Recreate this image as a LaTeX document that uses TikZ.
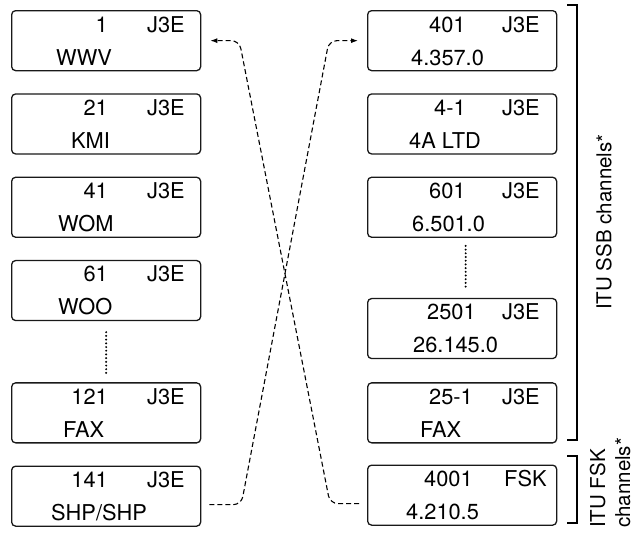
\documentclass[tikz,border=0pt]{standalone}
\usepackage{fontspec}
\setmainfont{TeX Gyre Heros}
\usetikzlibrary{positioning, arrows.meta}

\begin{document}
\begin{tikzpicture}[
    x=1pt, y=-1pt,
    >={Latex[length=7pt, width=5pt]},
    node distance=22pt,
    % Channel display boxes and their texts
    chbox/.style={draw=black!90, rectangle, rounded corners=4pt, minimum width=189pt, minimum height=60pt, line width=1.3pt, inner sep=0pt},
    txt/.style={inner sep=0pt, font=\fontsize{21.8}{25}\selectfont},
    side_label/.style={inner sep=0pt, rotate=90, font=\fontsize{20.5}{25}\selectfont},
    % Line styles
    more_dots/.style={line width=2.2pt, line cap=round, dash pattern=on 0pt off 3.7pt},
    link/.style={->, line width=1.1pt, dash pattern=on 5pt off 3pt, rounded corners=8pt, shorten <=8pt, shorten >=9pt},
    bracket/.style={line width=1.3pt}
]
    \useasboundingbox (0,0) rectangle (640,533);

    % ==================== Memory channels (LEFT COLUMN) ====================
    \node (ch1) [chbox, anchor=north west] at (11,10) {};
    \node (ch1_num) [txt, anchor=base east] at ([xshift=97pt, yshift=-22pt]ch1.north west) {1};
    \node (ch1_mode) [txt, anchor=base west] at ([xshift=136pt, yshift=-22pt]ch1.north west) {J3E};
    \node (ch1_name) [txt, anchor=base west] at ([xshift=45pt, yshift=-55pt]ch1.north west) {WWV};

    \node (ch21) [chbox, below=of ch1] {};
    \node (ch21_num) [txt, anchor=base east] at ([xshift=97pt, yshift=-22pt]ch21.north west) {21};
    \node (ch21_mode) [txt, anchor=base west] at ([xshift=136pt, yshift=-22pt]ch21.north west) {J3E};
    \node (ch21_name) [txt, anchor=base west] at ([xshift=60pt, yshift=-55pt]ch21.north west) {KMI};

    \node (ch41) [chbox, below=of ch21] {};
    \node (ch41_num) [txt, anchor=base east] at ([xshift=97pt, yshift=-22pt]ch41.north west) {41};
    \node (ch41_mode) [txt, anchor=base west] at ([xshift=136pt, yshift=-22pt]ch41.north west) {J3E};
    \node (ch41_name) [txt, anchor=base west] at ([xshift=47pt, yshift=-55pt]ch41.north west) {WOM};

    \node (ch61) [chbox, below=of ch41] {};
    \node (ch61_num) [txt, anchor=base east] at ([xshift=97pt, yshift=-22pt]ch61.north west) {61};
    \node (ch61_mode) [txt, anchor=base west] at ([xshift=136pt, yshift=-22pt]ch61.north west) {J3E};
    \node (ch61_name) [txt, anchor=base west] at ([xshift=47pt, yshift=-55pt]ch61.north west) {WOO};

    \node (ch121) [chbox, below=61pt of ch61] {};
    \node (ch121_num) [txt, anchor=base east] at ([xshift=97pt, yshift=-22pt]ch121.north west) {121};
    \node (ch121_mode) [txt, anchor=base west] at ([xshift=136pt, yshift=-22pt]ch121.north west) {J3E};
    \node (ch121_name) [txt, anchor=base west] at ([xshift=52pt, yshift=-55pt]ch121.north west) {FAX};

    \node (ch141) [chbox, below=of ch121] {};
    \node (ch141_num) [txt, anchor=base east] at ([xshift=97pt, yshift=-22pt]ch141.north west) {141};
    \node (ch141_mode) [txt, anchor=base west] at ([xshift=136pt, yshift=-22pt]ch141.north west) {J3E};
    \node (ch141_name) [txt, anchor=base west] at ([xshift=40pt, yshift=-55pt]ch141.north west) {SHP/SHP};

    \draw [more_dots, shorten <=11pt, shorten >=9pt] (ch61.south) -- (ch121.north);

    % ==================== ITU channels (RIGHT COLUMN) ====================
    \node (itu401) [chbox, anchor=north west] at (367,10) {};
    \node (itu401_num) [txt, anchor=base west] at ([xshift=62pt, yshift=-22pt]itu401.north west) {401};
    \node (itu401_mode) [txt, anchor=base west] at ([xshift=135pt, yshift=-22pt]itu401.north west) {J3E};
    \node (itu401_freq) [txt, anchor=base west] at ([xshift=44pt, yshift=-55pt]itu401.north west) {4.357.0};

    \node (itu4_1) [chbox, below=of itu401] {};
    \node (itu4_1_num) [txt, anchor=base west] at ([xshift=67pt, yshift=-22pt]itu4_1.north west) {4-1};
    \node (itu4_1_mode) [txt, anchor=base west] at ([xshift=135pt, yshift=-22pt]itu4_1.north west) {J3E};
    \node (itu4_1_freq) [txt, anchor=base west] at ([xshift=42pt, yshift=-55pt]itu4_1.north west) {4A LTD};

    \node (itu601) [chbox, below=of itu4_1] {};
    \node (itu601_num) [txt, anchor=base west] at ([xshift=62pt, yshift=-22pt]itu601.north west) {601};
    \node (itu601_mode) [txt, anchor=base west] at ([xshift=135pt, yshift=-22pt]itu601.north west) {J3E};
    \node (itu601_freq) [txt, anchor=base west] at ([xshift=45pt, yshift=-55pt]itu601.north west) {6.501.0};

    \node (itu2501) [chbox, below=60pt of itu601] {};
    \node (itu2501_num) [txt, anchor=base west] at ([xshift=60pt, yshift=-22pt]itu2501.north west) {2501};
    \node (itu2501_mode) [txt, anchor=base west] at ([xshift=135pt, yshift=-22pt]itu2501.north west) {J3E};
    \node (itu2501_freq) [txt, anchor=base west] at ([xshift=46pt, yshift=-55pt]itu2501.north west) {26.145.0};

    \node (itu25_1) [chbox, below=23pt of itu2501] {};
    \node (itu25_1_num) [txt, anchor=base west] at ([xshift=62pt, yshift=-22pt]itu25_1.north west) {25-1};
    \node (itu25_1_mode) [txt, anchor=base west] at ([xshift=135pt, yshift=-22pt]itu25_1.north west) {J3E};
    \node (itu25_1_freq) [txt, anchor=base west] at ([xshift=53pt, yshift=-55pt]itu25_1.north west) {FAX};

    \node (itu4001) [chbox, below=21pt of itu25_1] {};
    \node (itu4001_num) [txt, anchor=base west] at ([xshift=57pt, yshift=-22pt]itu4001.north west) {4001};
    \node (itu4001_mode) [txt, anchor=base west] at ([xshift=137pt, yshift=-22pt]itu4001.north west) {FSK};
    \node (itu4001_freq) [txt, anchor=base west] at ([xshift=39pt, yshift=-55pt]itu4001.north west) {4.210.5};

    \draw [more_dots, shorten <=8pt, shorten >=11pt] ([xshift=3.5pt]itu601.south) -- ([xshift=3.5pt]itu2501.north);

    % Brackets and group labels
    \draw [bracket] (567,5) -- (577,5) -- (577,440) -- (567,440);
    \draw [bracket] (567,456) -- (577,456) -- (577,523) -- (567,523);
    \node (ssb_label) [side_label] at (604,222) {ITU SSB channels*};
    \node (fsk_label) [side_label, anchor=west, align=left] at (610,528) {ITU FSK\\channels*};

    % Crossing links between the two columns
    \coordinate (bend_a1) at ([xshift=40pt, yshift=-8.5pt]ch141.east);
    \coordinate (bend_a2) at ([xshift=-38pt]itu401.west);
    \draw [link] ([yshift=-8.5pt]ch141.east) -- (bend_a1) -- (bend_a2) -- (itu401.west);

    \coordinate (bend_b1) at ([xshift=-37pt, yshift=-8.5pt]itu4001.west);
    \coordinate (bend_b2) at ([xshift=38pt]ch1.east);
    \draw [link] ([yshift=-8.5pt]itu4001.west) -- (bend_b1) -- (bend_b2) -- (ch1.east);

\end{tikzpicture}
\end{document}
